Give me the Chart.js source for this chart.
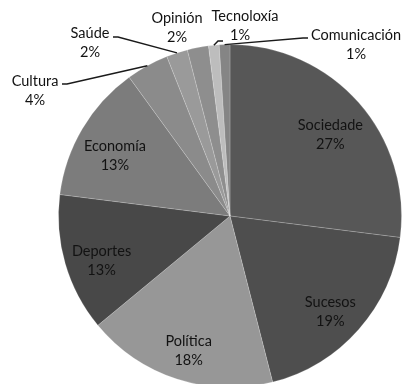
<!DOCTYPE html>
<html>
<head>
<meta charset="utf-8">
<script src="https://cdn.jsdelivr.net/npm/chart.js@4"></script>
<style>
  html, body { margin: 0; padding: 0; background: #fff; overflow: hidden; }
  #wrap { position: absolute; left: 0; top: 0; width: 404px; height: 392px; }
</style>
</head>
<body>
<div id="wrap"><canvas id="pie" width="404" height="392"></canvas></div>
<script>
// Share of news items per section (%), clockwise from 12 o'clock
const sections = ["Sociedade", "Sucesos", "Política", "Deportes", "Economía",
  "Cultura", "Saúde", "Opinión", "Tecnoloxía", "Comunicación"];
const shares = [27, 19, 18, 13, 13, 4, 2, 2, 1, 1];
const shades = ["#575757", "#4e4e4e", "#979797", "#484848", "#7c7c7c",
  "#8b8b8b", "#9a9a9a", "#8e8e8e", "#bdbdbd", "#858585"];

// Small slices get their label outside the pie, with an optional leader line
const callouts = {
  "Cultura":      { x: 35,  y: 81, line: [62, 84] },
  "Saúde":        { x: 90,  y: 33, line: [113, 37] },
  "Opinión":      { x: 177, y: 18, line: null },
  "Tecnoloxía":   { x: 245, y: 16, line: [223, 41], pctX: 240 },
  "Comunicación": { x: 356, y: 35, line: [308, 38] },
};

const FONT = "14.5px Lato, 'Open Sans', sans-serif";
const TEXT = "#121212";

const sliceLabels = {
  id: "sliceLabels",
  afterDatasetsDraw(chart) {
    const ctx = chart.ctx;
    const arcs = chart.getDatasetMeta(0).data;
    ctx.save();
    ctx.font = FONT;
    ctx.textAlign = "center";
    ctx.textBaseline = "middle";
    ctx.fillStyle = TEXT;
    ctx.strokeStyle = "#1a1a1a";
    ctx.lineWidth = 1.4;
    arcs.forEach((arc, i) => {
      const { x, y, startAngle, endAngle, outerRadius } =
        arc.getProps(["x", "y", "startAngle", "endAngle", "outerRadius"], true);
      const mid = (startAngle + endAngle) / 2;
      const name = sections[i];
      const pct = shares[i] + "%";
      const c = callouts[name];
      if (!c) {
        const lx = x + Math.cos(mid) * outerRadius * 0.78;
        const ly = y + Math.sin(mid) * outerRadius * 0.78 + 7;
        ctx.fillText(name, lx, ly - 9);
        ctx.fillText(pct, lx, ly + 10);
        return;
      }
      if (c.line) {
        const ex = x + Math.cos(mid) * outerRadius;
        const ey = y + Math.sin(mid) * outerRadius;
        const dir = ex > c.line[0] ? 1 : -1;
        ctx.beginPath();
        ctx.moveTo(c.line[0], c.line[1]);
        ctx.lineTo(c.line[0] + dir * 5, c.line[1]);
        ctx.lineTo(ex, ey);
        ctx.stroke();
      }
      ctx.fillText(name, c.x, c.y);
      ctx.fillText(pct, c.pctX || c.x, c.y + 19);
    });
    ctx.restore();
  }
};

new Chart(document.getElementById("pie"), {
  type: "pie",
  data: {
    labels: sections,
    datasets: [{
      data: shares,
      backgroundColor: shades,
      borderColor: "rgba(255,255,255,0.18)",
      borderWidth: 1,
    }],
  },
  options: {
    responsive: false,
    animation: false,
    layout: { padding: { left: 58, right: 2, top: 44, bottom: 4 } },
    plugins: {
      legend: { display: false },
      tooltip: { enabled: false },
    },
  },
  plugins: [sliceLabels],
});
</script>
</body>
</html>
